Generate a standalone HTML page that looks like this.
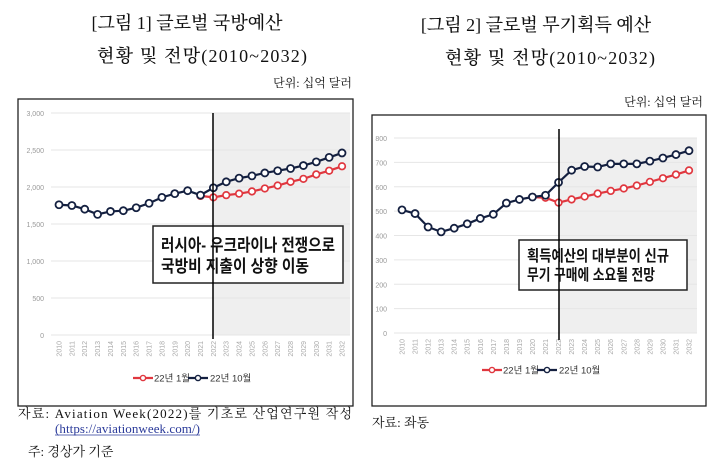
<!DOCTYPE html>
<html><head><meta charset="utf-8">
<style>
body{margin:0;background:#fff;width:720px;height:474px;overflow:hidden;}
svg{display:block}
</style></head>
<body>
<svg id="s" width="720" height="474" xmlns="http://www.w3.org/2000/svg">
<g font-family="'Liberation Serif','Noto Serif CJK SC',serif" fill="#111">
<text x="187" y="29" font-size="18" text-anchor="middle" font-weight="500">[그림 1] 글로벌 국방예산</text>
<text x="202" y="62" font-size="18" text-anchor="middle" textLength="210" font-weight="500">현황 및 전망(2010~2032)</text>
<text x="352" y="87" font-size="12" text-anchor="end">단위: 십억 달러</text>
<text x="536" y="31" font-size="18" text-anchor="middle" font-weight="500">[그림 2] 글로벌 무기획득 예산</text>
<text x="550" y="64" font-size="18" text-anchor="middle" textLength="210" font-weight="500">현황 및 전망(2010~2032)</text>
<text x="703" y="106" font-size="12" text-anchor="end">단위: 십억 달러</text>
<text x="18" y="418" font-size="13" textLength="334">자료:  Aviation  Week(2022)를  기초로  산업연구원  작성</text>
<text x="55" y="433" font-size="13" fill="#2a3a9a" textLength="145">(https://aviationweek.com/)</text>
<line x1="55" y1="435" x2="200" y2="435" stroke="#2a3a9a" stroke-width="0.8"/>
<text x="28" y="456" font-size="13">주: 경상가 기준</text>
<text x="372" y="427" font-size="13">자료: 좌동</text>
</g>
<g id="c"></g>
</svg>
<script>
const NS="http://www.w3.org/2000/svg";
const g=document.getElementById('c');
function el(t,a,txt){const e=document.createElementNS(NS,t);for(const k in a)e.setAttribute(k,a[k]);if(txt!==undefined)e.textContent=txt;g.appendChild(e);return e;}
function chart(o){
 el('rect',{x:o.fx,y:o.fy,width:o.fw,height:o.fh,fill:'#fff',stroke:'#222','stroke-width':1.3});
 const X=i=>o.x0+i*(o.x1-o.x0)/22, Y=v=>o.y0-(v/o.max)*(o.y0-o.yt);
 el('rect',{x:o.vx,y:o.yt,width:o.gx2-o.vx,height:o.y0-o.yt,fill:'#efefef'});
 for(let k=0;k<=o.max;k+=o.step){const y=Y(k);
  el('line',{x1:o.x0-8,x2:o.gx2,y1:y,y2:y,stroke:'#e6e6e6','stroke-width':1});
  el('text',{x:o.lx,y:y+3,'font-size':7,fill:'#999','text-anchor':'end','font-family':'Liberation Sans,sans-serif'},o.fmt(k));}
 for(let i=0;i<23;i++){const x=X(i);
  el('text',{transform:`translate(${x+2.5},${o.y0+6}) rotate(-90)`,'font-size':7,fill:'#aaa','text-anchor':'end','font-family':'Liberation Sans,sans-serif'},2010+i);}
 const pts=(d,s)=>d.map((v,i)=>X(i+s)+','+Y(v)).join(' ');
 el('polyline',{points:pts(o.red,o.rs),fill:'none',stroke:'#e0373f','stroke-width':2.2});
 el('polyline',{points:pts(o.blue,0),fill:'none',stroke:'#142040','stroke-width':2.2});
 o.red.forEach((v,i)=>el('circle',{cx:X(i+o.rs),cy:Y(v),r:3.3,fill:'#fff',stroke:'#e0373f','stroke-width':1.7}));
 o.blue.forEach((v,i)=>el('circle',{cx:X(i),cy:Y(v),r:3.5,fill:'#fff',stroke:'#142040','stroke-width':1.8}));
 el('rect',{x:o.bx,y:o.by,width:o.bw,height:o.bh,fill:'#fff',stroke:'#222','stroke-width':1.5});
 el('line',{x1:o.vx,x2:o.vx,y1:o.vy1,y2:o.vy2,stroke:'#000','stroke-width':1.5});
 o.lines.forEach((t,i)=>el('text',{x:o.bx+8,y:o.by+o.ty+i*o.lh,'font-size':o.fs,'font-weight':'bold',fill:'#111',textLength:o.tl[i],lengthAdjust:'spacingAndGlyphs','font-family':'Liberation Sans,Noto Sans CJK KR,sans-serif'},t));
 const L=o.leg,ly=o.ly;
 el('line',{x1:L,x2:L+20,y1:ly,y2:ly,stroke:'#e0373f','stroke-width':2.2});
 el('circle',{cx:L+10,cy:ly,r:2.6,fill:'#fff',stroke:'#e0373f','stroke-width':1.4});
 el('text',{x:L+21,y:ly+3.5,'font-size':9.5,fill:'#333','font-family':'Liberation Sans,Noto Sans CJK KR,sans-serif'},'22년 1월');
 el('line',{x1:L+55,x2:L+75,y1:ly,y2:ly,stroke:'#142040','stroke-width':2.2});
 el('circle',{cx:L+65,cy:ly,r:2.6,fill:'#fff',stroke:'#142040','stroke-width':1.4});
 el('text',{x:L+77,y:ly+3.5,'font-size':9.5,fill:'#333','font-family':'Liberation Sans,Noto Sans CJK KR,sans-serif'},'22년 10월');
}
chart({fx:18,fy:99,fw:335,fh:307,x0:59,x1:342,y0:335,yt:113,max:3000,step:500,lx:44,gx2:350,
 fmt:k=>k.toLocaleString('en-US'),vx:213,vy1:113,vy2:339,
 blue:[1760,1750,1700,1630,1670,1680,1720,1780,1860,1910,1950,1890,1990,2070,2120,2150,2190,2220,2250,2290,2340,2400,2460],
 red:[1880,1860,1890,1910,1940,1980,2020,2070,2110,2170,2220,2280],rs:11,
 bx:153,by:226,bw:190,bh:57,ty:25,lh:21,fs:17,tl:[174,148],lines:['러시아- 우크라이나 전쟁으로','국방비 지출이 상향 이동'],leg:133,ly:378});
chart({fx:372,fy:115,fw:334,fh:291,x0:402,x1:689,y0:333,yt:138,max:800,step:100,lx:387,gx2:697,
 fmt:k=>''+k,vx:559,vy1:129,vy2:340,
 blue:[505,490,435,415,430,448,470,487,533,548,558,565,618,668,683,681,694,694,694,705,718,732,748],
 red:[558,555,535,548,560,572,583,593,605,620,635,650,667],rs:10,
 bx:519,by:240,bw:168,bh:50,ty:21,lh:19,fs:15.5,tl:[142,128],lines:['획득예산의 대부분이 신규','무기 구매에 소요될 전망'],leg:482,ly:370});
</script>
</body></html>
